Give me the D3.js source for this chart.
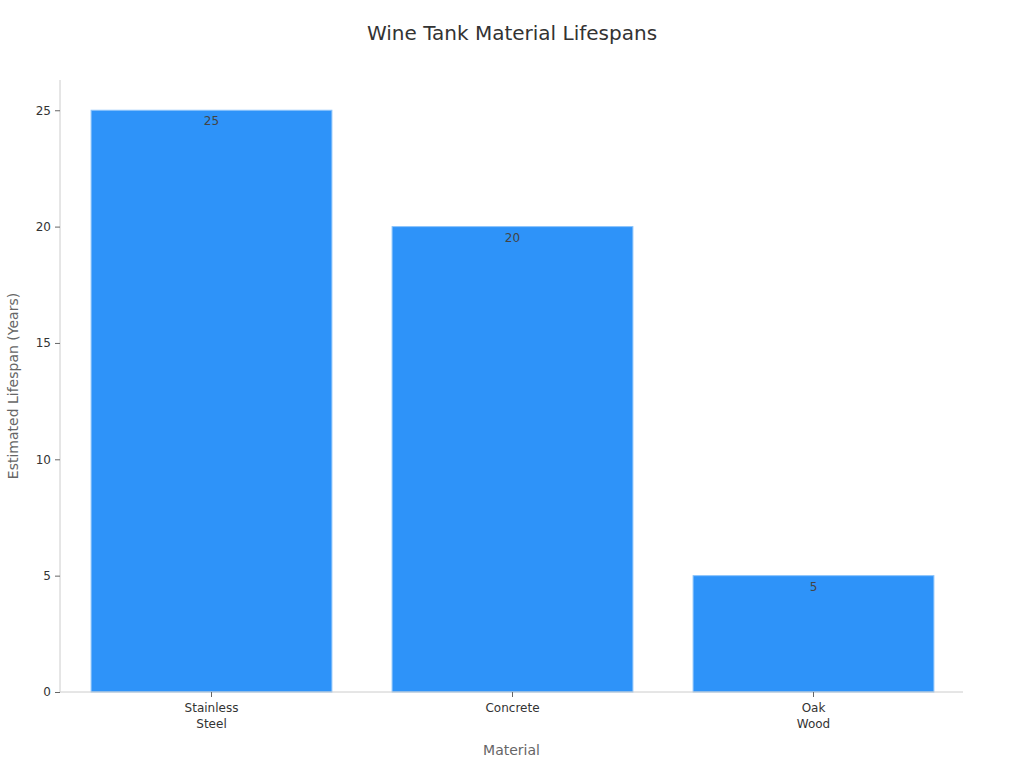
<!DOCTYPE html>
<html>
<head>
<meta charset="utf-8">
<script src="https://cdn.jsdelivr.net/npm/d3@7"></script>
<style>
  body { margin: 0; background: #fff; }
  text { font-family: "DejaVu Sans", sans-serif; }
</style>
</head>
<body>
<svg id="chart" width="1024" height="768"></svg>
<script>
// data
let materials = [["Stainless", "Steel"], ["Concrete"], ["Oak", "Wood"]];
let lifespans = [25, 20, 5];
let yTicks = [0, 5, 10, 15, 20, 25];

let margin = {top: 80, right: 61, bottom: 76, left: 60};
let width = 1024;
let height = 768;

let svg = d3.select("#chart");

let x = d3.scaleBand()
  .domain(materials.map((m, i) => i))
  .range([margin.left + 1, width - margin.right + 1])
  .paddingInner(0.2)
  .paddingOuter(0.1);

let y = d3.scaleLinear()
  .domain([0, 26.3])
  .range([height - margin.bottom, margin.top]);

// title
svg.append("text")
  .attr("x", width / 2)
  .attr("y", 40)
  .attr("text-anchor", "middle")
  .attr("font-size", 20)
  .attr("fill", "#333")
  .text("Wine Tank Material Lifespans");

// bars
svg.selectAll("rect.bar")
  .data(lifespans)
  .enter().append("rect")
  .attr("class", "bar")
  .attr("x", (d, i) => x(i))
  .attr("y", d => y(d))
  .attr("width", x.bandwidth())
  .attr("height", d => y(0) - y(d))
  .attr("fill", "#2e93f9")
  .attr("stroke", "#8cc4fb")
  .attr("stroke-width", 1);

// value labels
svg.selectAll("text.val")
  .data(lifespans)
  .enter().append("text")
  .attr("class", "val")
  .attr("x", (d, i) => x(i) + x.bandwidth() / 2)
  .attr("y", d => y(d) + 15)
  .attr("text-anchor", "middle")
  .attr("font-size", 12)
  .attr("fill", "#444")
  .text(d => d);

// y axis
let yAxis = svg.append("g")
  .attr("transform", `translate(${margin.left},0)`)
  .call(d3.axisLeft(y).tickValues(yTicks).tickSize(5).tickPadding(4));
yAxis.select(".domain").attr("stroke", "#ccc")
  .attr("d", `M0,${margin.top}V${height - margin.bottom}`);
yAxis.selectAll(".tick line").attr("stroke", "#666");
yAxis.selectAll(".tick text").attr("font-size", 12).attr("fill", "#333")
  .style("font-family", "DejaVu Sans, sans-serif");

// x axis
let xAxis = svg.append("g")
  .attr("transform", `translate(0,${height - margin.bottom})`)
  .call(d3.axisBottom(x).tickSize(5).tickFormat(""));
xAxis.select(".domain").attr("stroke", "#ccc")
  .attr("d", `M${margin.left},0H${width - margin.right}`);
xAxis.selectAll(".tick line").attr("stroke", "#666");

xAxis.selectAll(".tick").each(function(d) {
  let t = d3.select(this).append("text")
    .attr("text-anchor", "middle")
    .attr("font-size", 12)
    .attr("fill", "#333")
    .style("font-family", "DejaVu Sans, sans-serif");
  materials[d].forEach((line, j) => {
    t.append("tspan").attr("x", 0).attr("y", 20 + j * 16).text(line);
  });
});

// axis titles
svg.append("text")
  .attr("x", (margin.left + width - margin.right) / 2)
  .attr("y", 755)
  .attr("text-anchor", "middle")
  .attr("font-size", 14)
  .attr("fill", "#666")
  .text("Material");

svg.append("text")
  .attr("transform", `translate(18,${(margin.top + height - margin.bottom) / 2}) rotate(-90)`)
  .attr("text-anchor", "middle")
  .attr("font-size", 14)
  .attr("fill", "#666")
  .text("Estimated Lifespan (Years)");
</script>
</body>
</html>
